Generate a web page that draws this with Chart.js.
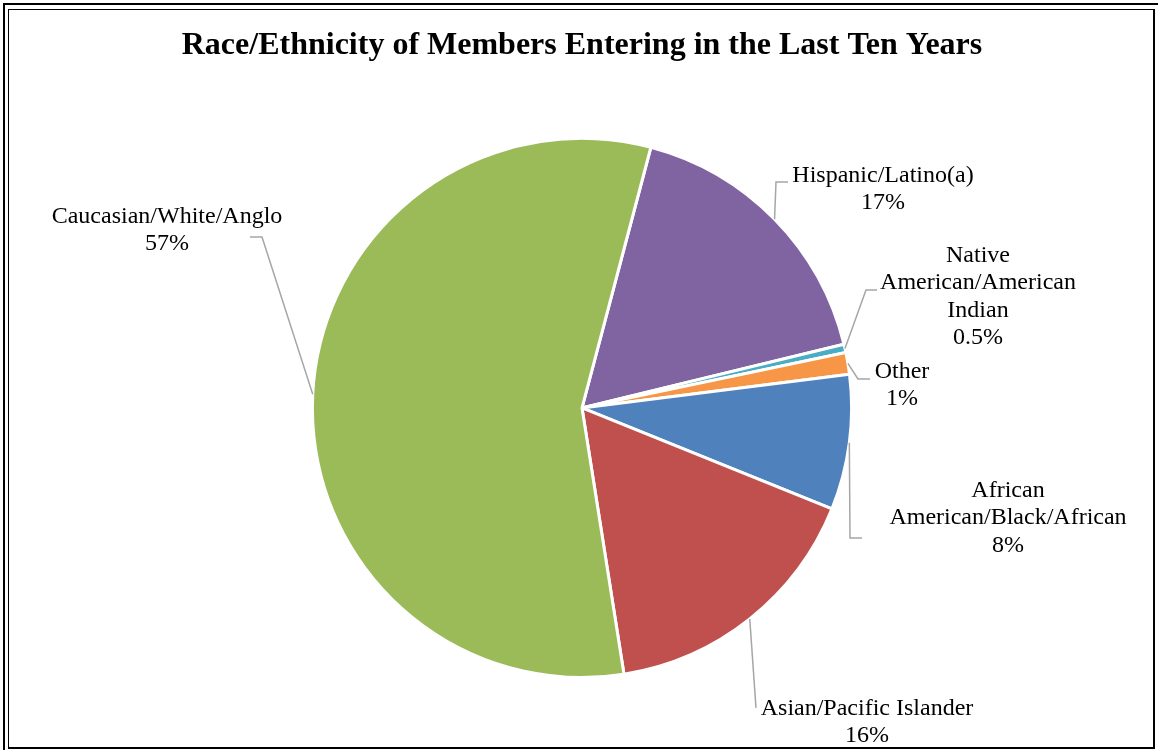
<!DOCTYPE html>
<html>
<head>
<meta charset="utf-8">
<script src="https://cdn.jsdelivr.net/npm/chart.js@4.4.0/dist/chart.umd.min.js"></script>
<style>
  html, body { margin: 0; padding: 0; background: #fff; overflow: hidden; }
  #wrap { position: relative; width: 1158px; height: 750px; }
  #pie-chart { position: absolute; left: 0; top: 0; }
  .frame-outer { position: absolute; left: 3px; top: 3px; width: 1300px; height: 900px; border: 2px solid #000; }
  .frame-inner { position: absolute; left: 8px; top: 9px; width: 1144px; height: 737px;
                 border-style: solid; border-color: #000; border-width: 1px 2px 2px 1px; }
</style>
</head>
<body>
<div id="wrap">
  <canvas id="pie-chart" width="1158" height="750"></canvas>
  <div class="frame-outer"></div>
  <div class="frame-inner"></div>
</div>
<script>
// data, clockwise from the Hispanic slice
const categories = ['Hispanic/Latino(a)', 'Native American/American Indian', 'Other',
                    'African American/Black/African', 'Asian/Pacific Islander', 'Caucasian/White/Anglo'];
const shares = [17.1, 0.5, 1.3, 8.1, 16.4, 56.6];
const pctLabels = ['17%', '0.5%', '1%', '8%', '16%', '57%'];
const colors = ['#8064A2', '#4BACC6', '#F79646', '#4F81BD', '#C0504D', '#9BBB59'];

// label placement relative to pie centre: text (tx, ty first baseline), leader end (ax, ay), elbow gap
const labelPos = [
    { tx: 301, ty: -226, ax: 206, ay: -226, gap: -12 },
    { tx: 396, ty: -146, ax: 295, ay: -118, gap: -11 },
    { tx: 320, ty: -30,  ax: 288, ay: -29,  gap: -12 },
    { tx: 426, ty: 89,   ax: 280, ay: 130,  gap: -12 },
    { tx: 285, ty: 307,  ax: 174, ay: 300,  gap: 0 },
    { tx: -415, ty: -185, ax: -332, ay: -171, gap: 12 }
];

function wrapText(ctx, text, maxWidth) {
    const words = text.split(' ');
    const lines = [];
    let line = words[0];
    for (let k = 1; k < words.length; k++) {
        const test = line + ' ' + words[k];
        if (ctx.measureText(test).width > maxWidth) {
            lines.push(line);
            line = words[k];
        } else {
            line = test;
        }
    }
    lines.push(line);
    return lines;
}

const leaderLabels = {
    id: 'leaderLabels',
    afterDatasetsDraw(chart) {
        const ctx = chart.ctx;
        const arcs = chart.getDatasetMeta(0).data;
        ctx.save();
        ctx.font = '24px "Liberation Serif"';
        ctx.fillStyle = '#000';
        ctx.textAlign = 'center';
        ctx.textBaseline = 'alphabetic';
        arcs.forEach((arc, i) => {
            const { x, y, startAngle, endAngle, outerRadius } =
                arc.getProps(['x', 'y', 'startAngle', 'endAngle', 'outerRadius'], true);
            const mid = (startAngle + endAngle) / 2;
            const ex = x + Math.cos(mid) * outerRadius;
            const ey = y + Math.sin(mid) * outerRadius;
            const p = labelPos[i];
            const ax = x + p.ax, ay = y + p.ay;
            ctx.strokeStyle = '#a6a6a6';
            ctx.lineWidth = 1.5;
            ctx.beginPath();
            ctx.moveTo(ex, ey);
            ctx.lineTo(ax + p.gap, ay);
            ctx.lineTo(ax, ay);
            ctx.stroke();
            const lines = wrapText(ctx, categories[i], 240).concat(pctLabels[i]);
            lines.forEach((t, j) => ctx.fillText(t, x + p.tx, y + p.ty + j * 27.5));
        });
        ctx.restore();
    }
};

const ctx = document.getElementById('pie-chart').getContext('2d');
const pieChart = new Chart(ctx, {
    type: 'pie',
    data: {
        labels: categories,
        datasets: [{
            data: shares,
            backgroundColor: colors,
            borderColor: '#fff',
            borderWidth: 3
        }]
    },
    options: {
        responsive: false,
        animation: false,
        rotation: 14.8,
        layout: {
            padding: { left: 6, right: 0, top: 0, bottom: 71 }
        },
        plugins: {
            legend: { display: false },
            tooltip: { enabled: false },
            title: {
                display: true,
                text: 'Race/Ethnicity of Members Entering in the Last Ten Years',
                color: '#000',
                font: { family: '"Liberation Serif"', size: 32, weight: 'bold' },
                padding: { top: 27, bottom: 71.4 }
            }
        }
    },
    plugins: [leaderLabels]
});
</script>
</body>
</html>
